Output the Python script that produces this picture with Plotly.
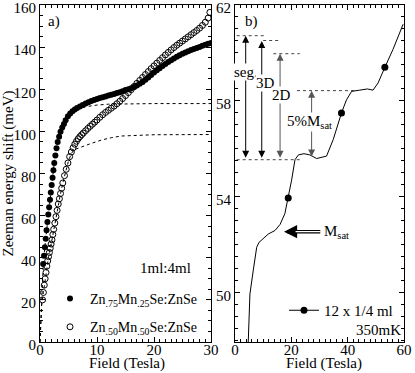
import plotly.graph_objects as go

# ---- panel a) Zeeman shift vs field ----
filled_x = [0.55, 0.7, 0.85, 1.0, 1.15, 1.3, 1.45, 1.6, 1.75, 1.9, 2.05, 2.2, 2.35, 2.5,
            2.7, 2.9, 3.1, 3.35, 3.6, 3.9, 4.2, 4.5, 4.9, 5.3, 5.7, 6.1, 6.5,
            7.0, 7.5, 8.0, 8.5, 9.0, 9.5, 10, 10.5, 11, 11.5, 12, 12.5, 13, 13.5, 14, 14.5,
            15, 15.5, 16, 16.5, 17, 17.5, 18, 18.5, 19, 19.5, 20, 20.5, 21, 21.5, 22, 22.5,
            23, 23.5, 24, 24.5, 25, 25.5, 26, 26.5, 27, 27.5, 28, 28.5, 29, 29.5, 30]
filled_y = [37, 41, 45, 49, 53, 57, 60.5, 64, 67.5, 71, 74.5, 78, 81.5, 85,
            88.5, 92, 95, 97.5, 99.8, 101.8, 103.5, 105.3, 107.2, 108.5, 109.6, 110.4, 111.1,
            111.8, 112.5, 113.2, 113.8, 114.4, 114.9, 115.4, 115.8, 116.2, 116.6, 117, 117.4, 117.8, 118.2, 118.6, 119.1,
            119.6, 120, 120.5, 121.1, 121.8, 122.6, 123.5, 124.5, 125.6, 126.8, 128, 129, 130, 131, 132, 132.9,
            133.8, 134.6, 135.4, 136.1, 136.8, 137.4, 138, 138.6, 139.1, 139.6, 140.1, 140.6, 141.1, 141.6, 142]

open_x = [0.45, 0.6, 0.75, 0.9, 1.05, 1.2, 1.35, 1.5, 1.65, 1.8, 1.95, 2.1, 2.25, 2.4,
          2.6, 2.8, 3.0, 3.2, 3.4, 3.6, 3.8, 4.0, 4.3, 4.6, 4.9, 5.2, 5.5, 5.8, 6.1, 6.4,
          6.7, 7.0, 7.3, 7.6, 8.0, 8.4, 8.8, 9.2, 9.6, 10, 10.5, 11, 11.5, 12, 12.5, 13,
          13.5, 14, 14.5, 15, 15.5, 16, 16.5, 17, 17.5, 18, 18.5, 19, 19.5, 20, 20.5, 21,
          21.5, 22, 22.5, 23, 23.5, 24, 24.5, 25, 25.5, 26, 26.5, 27, 27.5, 28, 28.5, 29,
          29.5, 29.8]
open_y = [20, 23.5, 27, 30, 33, 36, 38.5, 40.5, 42.5, 44.5, 46.5, 48.5, 51, 53.5,
          56.5, 59.5, 62.5, 65.5, 68, 70.5, 73, 75.5, 79, 82, 85, 88, 90.2, 92.2, 93.9, 95.3,
          96.5, 97.5, 98.4, 99.2, 100.3, 101.4, 102.4, 103.4, 104.4, 105.4, 106.7, 107.9, 109, 110, 111, 112,
          113.1, 114.3, 115.6, 117, 118.4, 119.8, 121.3, 122.8, 124.2, 125.6, 127, 128.4, 129.8, 131.1, 132.4, 133.7,
          135, 136.3, 137.5, 138.7, 139.8, 140.9, 141.9, 142.9, 143.9, 144.9, 145.9, 146.9, 147.9, 149, 150.3, 151.8,
          153.8, 156.5]

fit1_x = [0, 0.3, 0.6, 1, 1.5, 2, 2.5, 3, 3.5, 4, 4.5, 5, 5.5, 6, 6.7, 8, 10, 12, 15, 20, 30]
fit1_y = [0, 20, 38, 49, 61.5, 73, 85, 93.5, 98.5, 102.5, 105, 107, 108.5, 109.6, 110.6, 111.7,
          112.5, 112.9, 113.1, 113.2, 113.2]
fit2_x = [0, 0.3, 0.6, 1, 1.5, 2, 2.5, 3, 3.5, 4, 4.5, 5, 5.5, 6, 7, 7.6, 9, 10.8, 12.5, 14.3, 17, 20, 30]
fit2_y = [0, 18, 23.5, 32, 40.5, 47, 55, 62.5, 69, 75.5, 81, 86, 89.5, 91.3, 92.3, 92.8, 94.3,
          95.9, 97, 97.8, 98.2, 98.4, 98.5]

# ---- panel b) 12 x 1/4 ml at 350 mK ----
b_x = [4.7, 4.9, 5.3, 6.5, 7.7, 8.5, 9.5, 11.8, 14.2, 16, 17.7, 18.9, 20.1, 21.3, 22.5, 24.5,
       26.6, 29, 31, 32.5, 34.9, 37.8, 39.6, 41.4, 44.3, 47, 49.0, 50.8, 53.2, 56.1, 59.7]
b_y = [47.95, 49.0, 49.95, 50.95, 51.9, 52.1, 52.2, 52.45, 52.6, 52.85, 53.3, 53.95, 54.7, 55.55,
       55.75, 55.8, 55.75, 55.6, 55.65, 55.7, 56.4, 57.5, 58.05, 58.4, 58.45, 58.5, 58.45, 58.75,
       59.4, 60.15, 61.2]
b_mark_x = [18.9, 37.8, 53.2]
b_mark_y = [53.95, 57.5, 59.4]

# dotted reference levels
lvl_y = [60.72, 60.52, 59.97, 58.43, 55.55]
lvl_x0 = [0.6, 10, 13.6, 22, 0.6]
lvl_x1 = [10.6, 16, 23, 43.2, 23]

# double arrows and their labels
arr_x = [3.8, 9.5, 16.0, 27.2]
arr_top = [60.72, 60.5, 59.97, 58.43]
arr_bot = [55.57, 55.57, 55.57, 55.62]
arr_col = ['black', 'black', '#555555', '#555555']
lab_text = ['seg.', '3D', '2D', '5%M<sub>sat</sub>']
lab_x = [3.8, 10.7, 16.5, 26.6]
lab_y = [59.22, 58.74, 58.25, 57.14]

FONT = 'Liberation Serif'
f15 = dict(family=FONT, size=15, color='black')

fig = go.Figure()

fig.add_trace(go.Scatter(x=fit1_x, y=fit1_y, mode='lines', showlegend=False,
                         line=dict(color='black', width=1, dash='dot'), xaxis='x', yaxis='y'))
fig.add_trace(go.Scatter(x=fit2_x, y=fit2_y, mode='lines', showlegend=False,
                         line=dict(color='black', width=1, dash='dot'), xaxis='x', yaxis='y'))
fig.add_trace(go.Scatter(x=filled_x, y=filled_y, mode='markers',
                         name='Zn<sub>.75</sub>Mn<sub>.25</sub>Se:ZnSe', legendgroup='a',
                         marker=dict(symbol='circle', size=6, color='black'), xaxis='x', yaxis='y'))
fig.add_trace(go.Scatter(x=open_x, y=open_y, mode='markers',
                         name='Zn<sub>.50</sub>Mn<sub>.50</sub>Se:ZnSe', legendgroup='b',
                         marker=dict(symbol='circle-open', size=6, color='black', line=dict(width=1)),
                         xaxis='x', yaxis='y'))

# dotted levels in panel b
lx, ly = [], []
for y0, a, b in zip(lvl_y, lvl_x0, lvl_x1):
    lx += [a, b, None]
    ly += [y0, y0, None]
fig.add_trace(go.Scatter(x=lx, y=ly, mode='lines', showlegend=False,
                         line=dict(color='#444444', width=1, dash='dot'), xaxis='x2', yaxis='y2'))

fig.add_trace(go.Scatter(x=b_x, y=b_y, mode='lines', showlegend=False,
                         line=dict(color='black', width=1), xaxis='x2', yaxis='y2'))
fig.add_trace(go.Scatter(x=b_mark_x, y=b_mark_y, mode='markers', showlegend=False,
                         marker=dict(size=7, color='black'), xaxis='x2', yaxis='y2'))
fig.add_trace(go.Scatter(x=[None], y=[None], mode='lines+markers', name='12 x 1/4 ml',
                         legend='legend2', line=dict(color='black', width=1),
                         marker=dict(size=7, color='black'), xaxis='x2', yaxis='y2'))

ann = []
for x0, t, b, c in zip(arr_x, arr_top, arr_bot, arr_col):
    ann.append(dict(x=x0, y=t, ax=x0, ay=b, xref='x2', yref='y2', axref='x2', ayref='y2',
                    text='', showarrow=True, arrowhead=2, arrowsize=1.4, arrowwidth=1,
                    startarrowhead=2, startarrowsize=1.4, arrowside='end+start',
                    arrowcolor=c, standoff=0, startstandoff=0))
for t, x0, y0 in zip(lab_text, lab_x, lab_y):
    ann.append(dict(x=x0, y=y0, xref='x2', yref='y2', text=t, showarrow=False,
                    bgcolor='white', borderpad=0, font=f15))

# M_sat arrow (hollow shaft)
ann.append(dict(x=17.4, y=52.55, ax=30.8, ay=52.55, xref='x2', yref='y2', axref='x2', ayref='y2',
                text='', showarrow=True, arrowhead=2, arrowsize=0.75, arrowwidth=3.5,
                arrowcolor='black', standoff=0))
ann.append(dict(x=21.5, y=52.55, ax=30.9, ay=52.55, xref='x2', yref='y2', axref='x2', ayref='y2',
                text='', showarrow=True, arrowhead=0, arrowwidth=1.3, arrowcolor='white', standoff=0))
ann.append(dict(x=30.8, y=52.55, xref='x2', yref='y2', xanchor='left', text='M<sub>sat</sub>',
                showarrow=False, font=f15))

ann.append(dict(x=59.5, y=48.45, xref='x2', yref='y2', xanchor='right', text='350mK',
                showarrow=False, font=f15))
ann.append(dict(x=22.1, y=35, xref='x', yref='y', text='1ml:4ml', showarrow=False, font=f15))
ann.append(dict(x=2.4, y=152, xref='x', yref='y', text='a)', showarrow=False, font=f15))
ann.append(dict(x=5.9, y=61.3, xref='x2', yref='y2', text='b)', showarrow=False, font=f15))

# x-axis titles
for cx in [127 / 415, 324 / 415]:
    ann.append(dict(x=cx, y=1 - 363 / 373, xref='paper', yref='paper', text='Field (Tesla)',
                    xanchor='center', yanchor='middle', showarrow=False, font=f15))

axis_style = dict(showline=True, linecolor='black', linewidth=1, mirror='allticks',
                  ticks='inside', ticklen=5, tickwidth=1, tickcolor='black', automargin=False,
                  showgrid=False, zeroline=False, tickfont=f15, ticklabeloverflow='allow')

fig.update_layout(
    width=415, height=373,
    margin=dict(l=0, r=0, t=0, b=0, autoexpand=False),
    paper_bgcolor='white', plot_bgcolor='white',
    font=f15,
    xaxis=dict(domain=[40 / 415, 211 / 415], range=[0, 30], dtick=10, ticklabelstandoff=-6,
               minor=dict(dtick=1, ticks='inside', ticklen=3, tickcolor='black'),
               anchor='y', **axis_style),
    yaxis=dict(domain=[1 - 342 / 373, 1 - 5 / 373], range=[0, 160], dtick=20, ticklabelshift=3,
               minor=dict(dtick=5, ticks='inside', ticklen=3, tickcolor='black'),
               title=dict(text='Zeeman energy shift (meV)', standoff=0, font=f15),
               anchor='x', **axis_style),
    xaxis2=dict(domain=[235 / 415, 404 / 415], range=[0, 60], dtick=20, ticklabelstandoff=-6,
                minor=dict(dtick=2, ticks='inside', ticklen=3, tickcolor='black'),
                anchor='y2', **axis_style),
    yaxis2=dict(domain=[1 - 342 / 373, 1 - 5 / 373], range=[47.95, 62], tick0=50, dtick=4,
                ticklabelshift=3,
                minor=dict(tick0=50, dtick=0.5, ticks='inside', ticklen=3, tickcolor='black'),
                anchor='x2', **axis_style),
    legend=dict(x=50 / 415, y=1 - 283 / 373, xanchor='left', yanchor='top',
                bgcolor='rgba(0,0,0,0)', tracegroupgap=7,
                font=dict(family=FONT, size=14, color='black')),
    legend2=dict(x=284 / 415, y=1 - 294 / 373, xanchor='left', yanchor='top',
                 bgcolor='rgba(0,0,0,0)', font=f15),
    annotations=ann,
)

fig.write_html("out.html", config={'displayModeBar': False},
               post_script="document.body.style.margin='0px';")
